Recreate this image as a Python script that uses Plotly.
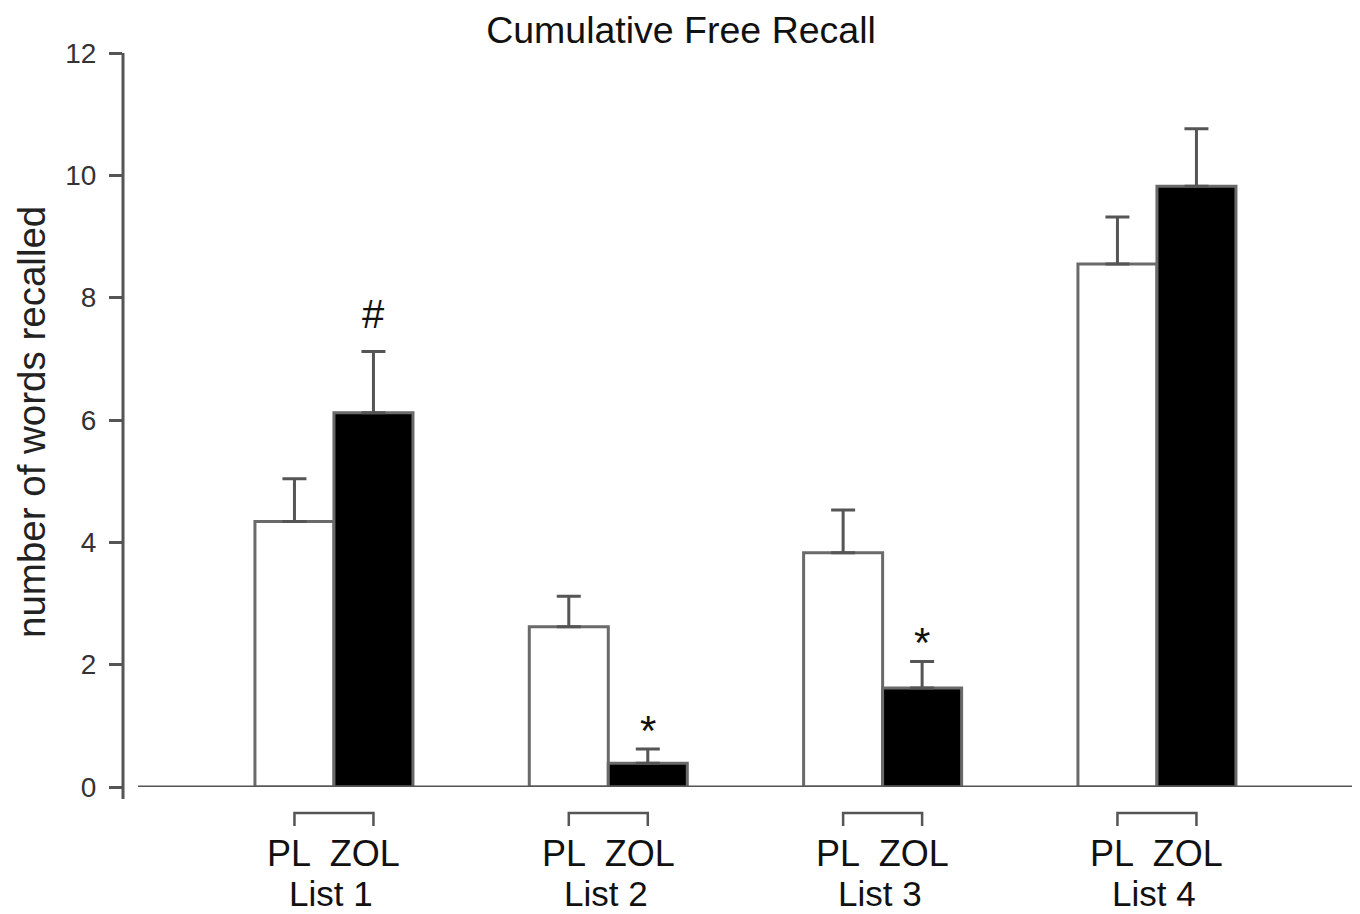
import plotly.graph_objects as go

lists = ["List 1", "List 2", "List 3", "List 4"]
pl_means = [4.34, 2.62, 3.83, 8.55]
pl_sem = [0.70, 0.50, 0.70, 0.77]
zol_means = [6.12, 0.39, 1.62, 9.82]
zol_sem = [1.00, 0.23, 0.43, 0.94]
markers = ["#", "*", "*", ""]
y_ticks = [0, 2, 4, 6, 8, 10, 12]

FONT = "Liberation Sans, Arial, Helvetica, sans-serif"
GRAY = "#6a6a6a"
DARK = "#555555"
W, H = 1352, 906          # page adds an 8px body margin
L, T, PW, PH = 115, 45, 1229, 734
bw = 0.288
half = bw / 2
grp = [1, 2, 3, 4]
pl_x = [g - half for g in grp]
zol_x = [g + half for g in grp]

fig = go.Figure()
fig.add_trace(go.Bar(
    x=pl_x, y=pl_means, width=bw,
    marker=dict(color="white", line=dict(color=GRAY, width=3)),
    error_y=dict(type="data", array=pl_sem, arrayminus=[0] * 4, symmetric=False,
                 color=DARK, thickness=3, width=12),
    showlegend=False, hoverinfo="skip",
))
fig.add_trace(go.Bar(
    x=zol_x, y=zol_means, width=bw,
    marker=dict(color="black", line=dict(color=GRAY, width=3)),
    error_y=dict(type="data", array=zol_sem, arrayminus=[0] * 4, symmetric=False,
                 color=DARK, thickness=3, width=12),
    showlegend=False, hoverinfo="skip",
))

# significance markers
shifts = {"#": 37, "*": 19}
sizes = {"#": 40, "*": 42}
for xz, m, s, e in zip(zol_x, markers, zol_means, zol_sem):
    if m:
        fig.add_annotation(x=xz, y=s + e, yshift=shifts[m], text=m, showarrow=False,
                           yanchor="middle", font=dict(family=FONT, size=sizes[m], color="#111"))

# x-axis baseline
fig.add_shape(type="line", xref="paper", yref="y", x0=15 / PW, x1=1.0, y0=0, y1=0,
              line=dict(color=DARK, width=3))
# y-axis line (extends slightly below zero)
fig.add_shape(type="line", xref="paper", yref="paper", x0=0, x1=0, y0=-12 / PH, y1=1.0,
              line=dict(color=DARK, width=3))

# brackets and category labels below the axis
for g, px, zx, name in zip(grp, pl_x, zol_x, lists):
    fig.add_shape(type="path", xref="x", yref="paper",
                  path=f"M {px},{-39/PH} L {px},{-26/PH} L {zx},{-26/PH} L {zx},{-39/PH}",
                  line=dict(color=DARK, width=2.5))
    fig.add_annotation(x=g, y=-66 / PH, xref="x", yref="paper", text="PL  ZOL",
                       showarrow=False, yanchor="middle",
                       font=dict(family=FONT, size=36, color="#111"))
    fig.add_annotation(x=g - 0.01, y=-106 / PH, xref="x", yref="paper", text=name,
                       showarrow=False, yanchor="middle",
                       font=dict(family=FONT, size=35, color="#111"))

# y-axis title
fig.add_annotation(x=(24 - L) / PW, y=(T + PH - 414) / PH,
                   xref="paper", yref="paper", text="number of words recalled",
                   textangle=-90, showarrow=False, xanchor="center", yanchor="middle",
                   borderpad=0,
                   font=dict(family=FONT, size=38.5, color="#222"))

fig.update_layout(
    width=W, height=H,
    margin=dict(l=L, r=W - L - PW, t=T, b=H - T - PH),
    plot_bgcolor="white", paper_bgcolor="white",
    barmode="overlay",
    title=dict(text="Cumulative Free Recall", x=673 / W, xanchor="center",
               y=1 - 22 / H, yanchor="middle",
               font=dict(family=FONT, size=37.5, color="#111")),
    xaxis=dict(range=[0.231, 4.711], showgrid=False, zeroline=False, showline=False,
               showticklabels=False, ticks=""),
    yaxis=dict(range=[0, 12], tickvals=y_ticks, showgrid=False, zeroline=False,
               showline=False, ticks="outside", ticklen=13, tickwidth=3, tickcolor=DARK,
               ticklabelstandoff=7,
               tickfont=dict(family=FONT, size=28, color="#333")),
)

fig.write_html("out.html")
